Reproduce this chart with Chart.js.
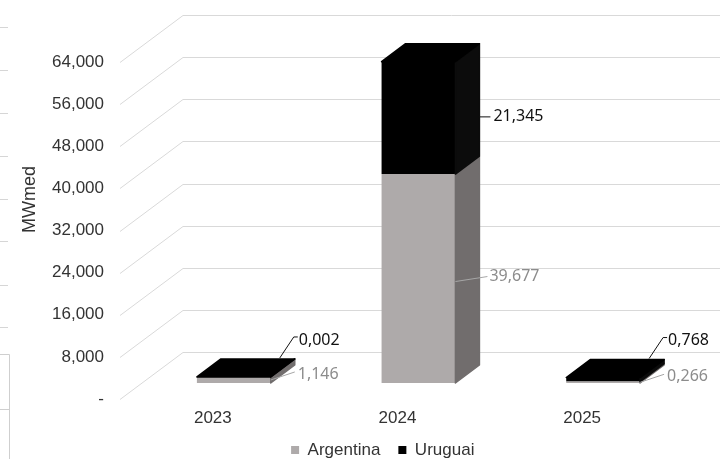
<!DOCTYPE html>
<html>
<head>
<meta charset="utf-8">
<script src="https://cdn.jsdelivr.net/npm/chart.js@4.4.1/dist/chart.umd.min.js"></script>
<style>
    html, body { margin: 0; padding: 0; background: #fff; }
</style>
</head>
<body>
<canvas id="chart" width="720" height="459"></canvas>
<script>
const years = ["2023", "2024", "2025"];
const argentina = [1.146, 39.677, 0.266];
const uruguai = [0.002, 21.345, 0.768];
const yTicks = [0, 8, 16, 24, 32, 40, 48, 56, 64];
const seriesNames = ["Argentina", "Uruguai"];
const axisTitle = "MWmed";

// 3D look: bar depth and the planes in front of / behind the bars
const DEPTH = { dx: 24, dy: -18 };
const FRONT = { dx: -21.5, dy: 16 };
const BACK = { dx: 41.5, dy: -31 };

const faces = [
    { front: "#aeaaaa", side: "#716d6d", top: "#c4c1c1", label: "#8c8c8c", leader: "#a6a6a6" },
    { front: "#000000", side: "#0c0c0c", top: "#000000", label: "#111111", leader: "#111111" },
];

const fmt = (v) => (v === 0 ? "-" : v.toFixed(3).replace(".", ","));
const axisFont = { family: "'Liberation Sans', Arial, sans-serif", size: 17 };
const labelFont = "16px 'Noto Sans', 'Open Sans', sans-serif";

function poly(ctx, pts, color) {
    ctx.beginPath();
    ctx.moveTo(pts[0][0], pts[0][1]);
    pts.slice(1).forEach((p) => ctx.lineTo(p[0], p[1]));
    ctx.closePath();
    ctx.fillStyle = color;
    ctx.strokeStyle = color;
    ctx.lineWidth = 1.5;
    ctx.lineJoin = "round";
    ctx.fill();
    ctx.stroke();
}

function barBox(chart, d, i) {
    const bar = chart.getDatasetMeta(d).data[i];
    const { x, y, base, width } = bar.getProps(["x", "y", "base", "width"], true);
    return { l: x - width / 2, r: x + width / 2, top: Math.min(y, base), base: Math.max(y, base) };
}

const wallPlugin = {
    id: "wall",
    beforeDraw(chart) {
        const ctx = chart.ctx;
        ctx.save();
        // thin rules along the left border
        ctx.strokeStyle = "#d6d6d6";
        ctx.lineWidth = 1;
        [27, 70, 113, 156, 199, 241, 285, 327].forEach((y) => {
            ctx.beginPath();
            ctx.moveTo(0, y + 0.5);
            ctx.lineTo(8, y + 0.5);
            ctx.stroke();
        });
        ctx.strokeStyle = "#cfcfcf";
        ctx.beginPath();
        ctx.moveTo(0, 354.5);
        ctx.lineTo(9.5, 354.5);
        ctx.lineTo(9.5, chart.height);
        ctx.moveTo(0, 409.5);
        ctx.lineTo(9.5, 409.5);
        ctx.stroke();
        ctx.restore();
    },
    beforeDatasetsDraw(chart) {
        const { ctx, chartArea } = chart;
        const y = chart.scales.y;
        ctx.save();
        ctx.strokeStyle = "#d9d9d9";
        ctx.lineWidth = 1;
        y.ticks.forEach((t) => {
            const py = Math.round(y.getPixelForValue(t.value));
            ctx.beginPath();
            ctx.moveTo(chartArea.left + FRONT.dx, py + FRONT.dy + 0.5);
            ctx.lineTo(chartArea.left + BACK.dx, py + BACK.dy + 0.5);
            ctx.lineTo(chart.width, py + BACK.dy + 0.5);
            ctx.stroke();
        });
        ctx.restore();
    },
    afterDatasetsDraw(chart) {
        const ctx = chart.ctx;
        const n = chart.data.labels.length;
        ctx.save();
        for (let i = 0; i < n; i++) {
            let last = null;
            chart.data.datasets.forEach((ds, d) => {
                const b = barBox(chart, d, i);
                poly(ctx, [
                    [b.r, b.top], [b.r + DEPTH.dx, b.top + DEPTH.dy],
                    [b.r + DEPTH.dx, b.base + DEPTH.dy], [b.r, b.base],
                ], faces[d].side);
                last = { b, d };
            });
            const { b, d } = last;
            poly(ctx, [
                [b.l, b.top], [b.l + DEPTH.dx, b.top + DEPTH.dy],
                [b.r + DEPTH.dx, b.top + DEPTH.dy], [b.r, b.top],
            ], faces[d].top);
        }
        ctx.restore();
    },
    afterDraw(chart) {
        const ctx = chart.ctx;
        ctx.save();
        // value labels with leader lines
        ctx.font = labelFont;
        ctx.textAlign = "left";
        ctx.textBaseline = "middle";
        ctx.lineWidth = 1;
        chart.data.datasets.forEach((ds, d) => {
            ds.data.forEach((v, i) => {
                const b = barBox(chart, d, i);
                const mid = (b.top + b.base) / 2;
                const tall = b.base - b.top >= 20;
                let pts, tx, ty;
                if (tall && d === 0) {
                    pts = [[b.r, mid + 3], [b.r + 32, mid - 2]];
                    tx = b.r + 34; ty = mid - 2;
                } else if (tall) {
                    pts = [[b.r + DEPTH.dx, mid - 1], [b.r + 35, mid - 1]];
                    tx = b.r + 38; ty = mid - 1;
                } else if (d === 0) {
                    pts = [[b.r, mid], [b.r + 24, mid - 8]];
                    tx = b.r + 27; ty = mid - 6;
                } else {
                    pts = [[b.r + 9, b.top - 19], [b.r + 23, b.top - 40], [b.r + 27, b.top - 40]];
                    tx = b.r + 28; ty = b.top - 37;
                }
                ctx.strokeStyle = faces[d].leader;
                ctx.beginPath();
                ctx.moveTo(pts[0][0], pts[0][1]);
                pts.slice(1).forEach((p) => ctx.lineTo(p[0], p[1]));
                ctx.stroke();
                ctx.fillStyle = faces[d].label;
                ctx.fillText(fmt(v), tx, ty);
            });
        });
        // vertical axis title
        ctx.translate(30, 199.5);
        ctx.rotate(-Math.PI / 2);
        ctx.textAlign = "center";
        ctx.font = "18px 'Liberation Sans', Arial, sans-serif";
        ctx.fillStyle = "#333333";
        ctx.fillText(axisTitle, 0, 0);
        ctx.restore();
    },
    afterLayout(chart) {
        // legend sits right of centre; keep its clip box down to the canvas edge
        const lg = chart.legend;
        lg.left += 35; lg.right += 35;
        lg.top -= 4.5; lg.bottom = chart.height;
    },
};

new Chart(document.getElementById("chart").getContext("2d"), {
    type: "bar",
    data: {
        labels: years,
        datasets: [
            { label: seriesNames[0], data: argentina, backgroundColor: faces[0].front },
            { label: seriesNames[1], data: uruguai, backgroundColor: faces[1].front },
        ],
    },
    options: {
        responsive: false,
        animation: false,
        devicePixelRatio: 1,
        layout: { padding: { top: 46, right: 24.5, left: 0, bottom: 0 } },
        datasets: { bar: { barPercentage: 0.4, categoryPercentage: 1, borderWidth: 0 } },
        plugins: {
            legend: {
                position: "bottom",
                maxHeight: 31,
                labels: {
                    boxWidth: 8, boxHeight: 8, padding: 18,
                    color: "#333333", font: axisFont,
                },
            },
            tooltip: { enabled: false },
        },
        scales: {
            x: {
                stacked: true,
                grid: { display: false },
                border: { display: false },
                ticks: { color: "#333333", font: axisFont, labelOffset: -21, padding: 17 },
                afterFit: (s) => { s.height = 45; },
            },
            y: {
                stacked: true,
                min: 0,
                max: 64,
                grid: { display: false },
                border: { display: false },
                afterBuildTicks: (s) => { s.ticks = yTicks.map((v) => ({ value: v })); },
                ticks: { color: "#333333", font: axisFont, labelOffset: 16, padding: 29.5, callback: (v) => fmt(v) },
                afterFit: (s) => { s.width = 141.5; },
            },
        },
    },
    plugins: [wallPlugin],
});
</script>
</body>
</html>
